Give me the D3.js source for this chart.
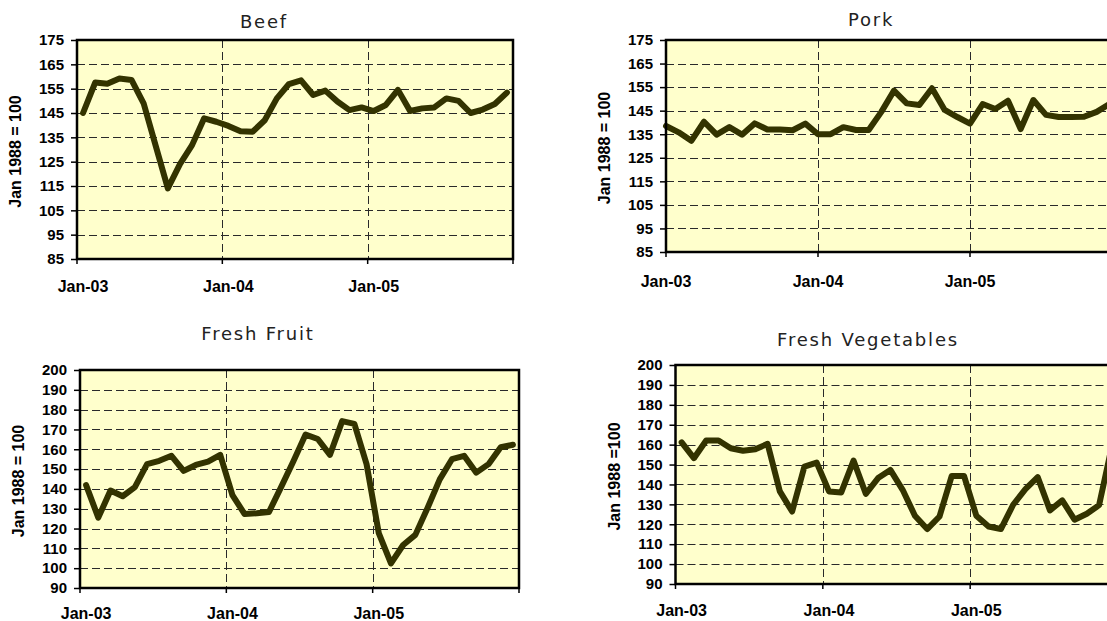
<!DOCTYPE html>
<html><head><meta charset="utf-8">
<script src="https://cdn.jsdelivr.net/npm/d3@7"></script>
<style>body{margin:0;background:#fff}svg{display:block}</style>
</head><body><svg id="c" width="1107" height="621"></svg>
<script>
// ---- data ----
const xTickLabels = ["Jan-03", "Jan-04", "Jan-05"];
const beef = [145,157.5,157,159.2,158.6,149,131.5,114,124,131.8,142.8,141.4,139.7,137.5,137.3,142,151,156.9,158.4,152.4,154.2,149.7,146.2,147.3,145.8,148.3,154.5,145.8,146.9,147.3,151,150,145,146.4,148.7,153.4];
const pork = [138.5,135.8,132.2,140.3,134.8,138,134.8,139.6,137,137,136.7,139.5,135,135,138,136.8,136.8,144.5,153.5,148.1,147.4,154.5,145.3,142.3,139.5,147.8,145.7,149.2,137.2,149.5,143.2,142.3,142.3,142.4,144.5,147.8];
const freshFruit = [141.9,125.5,139.2,136.3,140.9,152.5,154.2,156.7,149.1,152.1,153.8,157.2,136.9,127.3,127.7,128.4,141,154,167.4,165.2,157.2,174.2,172.8,152.5,117.7,102.4,111.7,116.8,130.4,144.8,155,156.7,148.2,152.5,161,162.3];
const freshVegetables = [161.1,153.2,162.1,162.1,158.2,156.9,157.7,160.4,136.5,126.4,149,151,136.5,136,152,135.3,143.2,147.3,137.3,124.3,117.6,123.9,144.3,144.3,124.3,118.9,117.6,129.8,137.6,143.7,127,132,122.3,125.3,129.6,158];
const yTicksMeat = [85,95,105,115,125,135,145,155,165,175];
const yTicksProduce = [90,100,110,120,130,140,150,160,170,180,190,200];
const nMonths = 36;

// ---- layout ----
const panels = [
  {title:"Beef", yTitle:"Jan 1988 = 100", values:beef, ticks:yTicksMeat,
   left:77, right:513, top:40, bottom:259, offset:0.5, titleX:264, titleY:28, yTitleX:15, xLabelY:286},
  {title:"Pork", yTitle:"Jan 1988 = 100", values:pork, ticks:yTicksMeat,
   left:666, right:1122, top:40, bottom:252, offset:0, titleX:871, titleY:26, yTitleX:604, xLabelY:281},
  {title:"Fresh Fruit", yTitle:"Jan 1988 = 100", values:freshFruit, ticks:yTicksProduce,
   left:80, right:519, top:370, bottom:588, offset:0.5, titleX:258, titleY:340, yTitleX:18, xLabelY:613},
  {title:"Fresh Vegetables", yTitle:"Jan 1988 =100", values:freshVegetables, ticks:yTicksProduce,
   left:675.5, right:1117.5, top:365, bottom:584, offset:0.5, titleX:868, titleY:346, yTitleX:614, xLabelY:610}
];

const svg = d3.select("#c");
svg.append("rect").attr("width",1107).attr("height",621).attr("fill","#fff");

panels.forEach(p => {
  const g = svg.append("g");
  const x = d3.scaleLinear().domain([0, nMonths]).range([p.left, p.right]);
  const y = d3.scaleLinear().domain([d3.min(p.ticks), d3.max(p.ticks)]).range([p.bottom, p.top]);

  g.append("rect").attr("x", p.left).attr("y", p.top)
    .attr("width", p.right - p.left).attr("height", p.bottom - p.top)
    .attr("fill", "#FFFFCC");

  // horizontal grid
  g.selectAll(".hg").data(p.ticks.slice(1, -1)).join("line")
    .attr("x1", p.left).attr("x2", p.right)
    .attr("y1", d => Math.round(y(d)) + 0.5).attr("y2", d => Math.round(y(d)) + 0.5)
    .attr("stroke", "#2a2a2a").attr("stroke-width", 1).attr("stroke-dasharray", "8,4");
  // vertical grid
  g.selectAll(".vg").data([12, 24]).join("line")
    .attr("x1", d => Math.round(x(d)) + 0.5).attr("x2", d => Math.round(x(d)) + 0.5)
    .attr("y1", p.top).attr("y2", p.bottom)
    .attr("stroke", "#2a2a2a").attr("stroke-width", 1).attr("stroke-dasharray", "8,4");

  // line
  const line = d3.line().x((d, i) => x(i + p.offset)).y(d => y(d));
  g.append("path").datum(p.values).attr("d", line)
    .attr("fill", "none").attr("stroke", "#333300").attr("stroke-width", 6)
    .attr("stroke-linejoin", "round").attr("stroke-linecap", "round");

  // border
  g.append("rect").attr("x", p.left).attr("y", p.top)
    .attr("width", p.right - p.left).attr("height", p.bottom - p.top)
    .attr("fill", "none").attr("stroke", "#000").attr("stroke-width", 2.5);

  // y axis
  const ya = g.append("g").attr("transform", `translate(${p.left},0)`)
    .call(d3.axisLeft(y).tickValues(p.ticks).tickSize(6).tickPadding(7));
  ya.select(".domain").remove();
  ya.selectAll("line").attr("stroke", "#000").attr("stroke-width", 1.5);
  ya.selectAll("text").attr("font-family", "'Liberation Sans', Arial, sans-serif")
    .attr("font-weight", "bold").attr("font-size", 15).attr("fill", "#000");

  // x ticks
  g.selectAll(".xt").data([0, 12, 24, 36]).join("line")
    .attr("x1", d => x(d)).attr("x2", d => x(d))
    .attr("y1", p.bottom).attr("y2", p.bottom + 5)
    .attr("stroke", "#000").attr("stroke-width", 1.5);
  g.selectAll(".xl").data(xTickLabels).join("text")
    .attr("x", (d, i) => x(i * 12 + p.offset)).attr("y", p.xLabelY)
    .attr("dy", "0.35em").attr("text-anchor", "middle")
    .attr("font-family", "'Liberation Sans', Arial, sans-serif")
    .attr("font-weight", "bold").attr("font-size", 16).attr("fill", "#000")
    .text(d => d);

  // y title
  const cy = (p.top + p.bottom) / 2 + 2;
  g.append("text").attr("transform", `translate(${p.yTitleX},${cy}) rotate(-90)`)
    .attr("text-anchor", "middle").attr("dy", "0.35em")
    .attr("font-family", "'Liberation Sans', Arial, sans-serif")
    .attr("font-weight", "bold").attr("font-size", 16).attr("fill", "#000")
    .text(p.yTitle);

  // title
  g.append("text").attr("x", p.titleX).attr("y", p.titleY)
    .attr("text-anchor", "middle")
    .attr("font-family", "'DejaVu Sans', Verdana, sans-serif")
    .attr("font-size", 18).attr("letter-spacing", 1.8).attr("fill", "#222")
    .text(p.title);
});
</script></body></html>
